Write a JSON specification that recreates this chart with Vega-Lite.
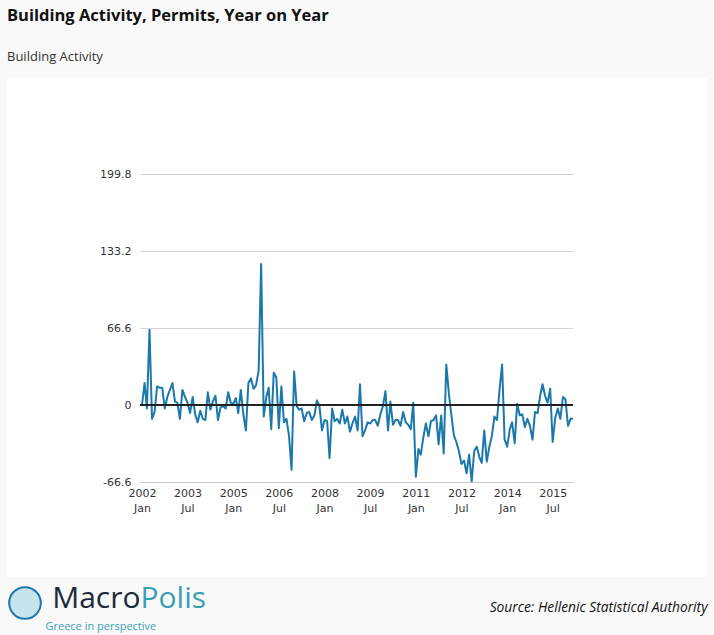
{
  "$schema": "https://vega.github.io/schema/vega-lite/v6.json",
  "width": 700,
  "height": 499,
  "autosize": "none",
  "padding": {"left": 7, "top": 78, "right": 7, "bottom": 58},
  "background": "#f9f9f9",
  "view": {"fill": "white", "stroke": null},
  "title": {
    "text": "Building Activity, Permits, Year on Year",
    "subtitle": "Building Activity",
    "anchor": "start",
    "frame": "group",
    "font": "Open Sans",
    "fontSize": 16.5,
    "fontWeight": "bold",
    "color": "#111111",
    "subtitleFont": "Open Sans",
    "subtitleFontSize": 13,
    "subtitleColor": "#333333",
    "offset": 14,
    "subtitlePadding": 27
  },
  "data": {
    "values": [
      {"d": "2002-01", "v": 0}, {"d": "2002-02", "v": 19}, {"d": "2002-03", "v": -3}, {"d": "2002-04", "v": 65}, {"d": "2002-05", "v": -12}, {"d": "2002-06", "v": -6}, {"d": "2002-07", "v": 16}, {"d": "2002-08", "v": 15}, {"d": "2002-09", "v": 15}, {"d": "2002-10", "v": -3}, {"d": "2002-11", "v": 7}, {"d": "2002-12", "v": 13},
      {"d": "2003-01", "v": 19}, {"d": "2003-02", "v": 3}, {"d": "2003-03", "v": 2}, {"d": "2003-04", "v": -12}, {"d": "2003-05", "v": 13}, {"d": "2003-06", "v": 7}, {"d": "2003-07", "v": 2}, {"d": "2003-08", "v": -7}, {"d": "2003-09", "v": 7}, {"d": "2003-10", "v": -8}, {"d": "2003-11", "v": -15}, {"d": "2003-12", "v": -5},
      {"d": "2004-01", "v": -12}, {"d": "2004-02", "v": -13}, {"d": "2004-03", "v": 11}, {"d": "2004-04", "v": -4}, {"d": "2004-05", "v": 3}, {"d": "2004-06", "v": 8}, {"d": "2004-07", "v": -13}, {"d": "2004-08", "v": -2}, {"d": "2004-09", "v": -1}, {"d": "2004-10", "v": -3}, {"d": "2004-11", "v": 11}, {"d": "2004-12", "v": 2},
      {"d": "2005-01", "v": 1}, {"d": "2005-02", "v": 6}, {"d": "2005-03", "v": -7}, {"d": "2005-04", "v": 13}, {"d": "2005-05", "v": -8}, {"d": "2005-06", "v": -22}, {"d": "2005-07", "v": 19}, {"d": "2005-08", "v": 23}, {"d": "2005-09", "v": 14}, {"d": "2005-10", "v": 17}, {"d": "2005-11", "v": 30}, {"d": "2005-12", "v": 122},
      {"d": "2006-01", "v": -10}, {"d": "2006-02", "v": 7}, {"d": "2006-03", "v": 15}, {"d": "2006-04", "v": -21}, {"d": "2006-05", "v": 28}, {"d": "2006-06", "v": 24}, {"d": "2006-07", "v": -20}, {"d": "2006-08", "v": 16}, {"d": "2006-09", "v": -15}, {"d": "2006-10", "v": -12}, {"d": "2006-11", "v": -27}, {"d": "2006-12", "v": -56},
      {"d": "2007-01", "v": 29}, {"d": "2007-02", "v": -1}, {"d": "2007-03", "v": -4}, {"d": "2007-04", "v": -3}, {"d": "2007-05", "v": -14}, {"d": "2007-06", "v": -7}, {"d": "2007-07", "v": -6}, {"d": "2007-08", "v": -13}, {"d": "2007-09", "v": -9}, {"d": "2007-10", "v": 4}, {"d": "2007-11", "v": -1}, {"d": "2007-12", "v": -22},
      {"d": "2008-01", "v": -13}, {"d": "2008-02", "v": -14}, {"d": "2008-03", "v": -46}, {"d": "2008-04", "v": -3}, {"d": "2008-05", "v": -14}, {"d": "2008-06", "v": -12}, {"d": "2008-07", "v": -16}, {"d": "2008-08", "v": -4}, {"d": "2008-09", "v": -16}, {"d": "2008-10", "v": -10}, {"d": "2008-11", "v": -23}, {"d": "2008-12", "v": -16},
      {"d": "2009-01", "v": -10}, {"d": "2009-02", "v": -22}, {"d": "2009-03", "v": 18}, {"d": "2009-04", "v": -27}, {"d": "2009-05", "v": -22}, {"d": "2009-06", "v": -15}, {"d": "2009-07", "v": -16}, {"d": "2009-08", "v": -13}, {"d": "2009-09", "v": -13}, {"d": "2009-10", "v": -18}, {"d": "2009-11", "v": -8}, {"d": "2009-12", "v": -1},
      {"d": "2010-01", "v": 12}, {"d": "2010-02", "v": -22}, {"d": "2010-03", "v": 3}, {"d": "2010-04", "v": -17}, {"d": "2010-05", "v": -13}, {"d": "2010-06", "v": -13}, {"d": "2010-07", "v": -18}, {"d": "2010-08", "v": -6}, {"d": "2010-09", "v": -15}, {"d": "2010-10", "v": -17}, {"d": "2010-11", "v": -21}, {"d": "2010-12", "v": 2},
      {"d": "2011-01", "v": -62}, {"d": "2011-02", "v": -38}, {"d": "2011-03", "v": -43}, {"d": "2011-04", "v": -28}, {"d": "2011-05", "v": -16}, {"d": "2011-06", "v": -27}, {"d": "2011-07", "v": -14}, {"d": "2011-08", "v": -13}, {"d": "2011-09", "v": -9}, {"d": "2011-10", "v": -34}, {"d": "2011-11", "v": -9}, {"d": "2011-12", "v": -42},
      {"d": "2012-01", "v": 35}, {"d": "2012-02", "v": 10}, {"d": "2012-03", "v": -8}, {"d": "2012-04", "v": -26}, {"d": "2012-05", "v": -32}, {"d": "2012-06", "v": -40}, {"d": "2012-07", "v": -51}, {"d": "2012-08", "v": -48}, {"d": "2012-09", "v": -59}, {"d": "2012-10", "v": -43}, {"d": "2012-11", "v": -66}, {"d": "2012-12", "v": -40},
      {"d": "2013-01", "v": -36}, {"d": "2013-02", "v": -45}, {"d": "2013-03", "v": -50}, {"d": "2013-04", "v": -22}, {"d": "2013-05", "v": -49}, {"d": "2013-06", "v": -36}, {"d": "2013-07", "v": -27}, {"d": "2013-08", "v": -10}, {"d": "2013-09", "v": -13}, {"d": "2013-10", "v": 13}, {"d": "2013-11", "v": 35}, {"d": "2013-12", "v": -30},
      {"d": "2014-01", "v": -36}, {"d": "2014-02", "v": -21}, {"d": "2014-03", "v": -15}, {"d": "2014-04", "v": -33}, {"d": "2014-05", "v": 1}, {"d": "2014-06", "v": -9}, {"d": "2014-07", "v": -8}, {"d": "2014-08", "v": -19}, {"d": "2014-09", "v": -12}, {"d": "2014-10", "v": -18}, {"d": "2014-11", "v": -30}, {"d": "2014-12", "v": -6},
      {"d": "2015-01", "v": -7}, {"d": "2015-02", "v": 8}, {"d": "2015-03", "v": 18}, {"d": "2015-04", "v": 8}, {"d": "2015-05", "v": 2}, {"d": "2015-06", "v": 14}, {"d": "2015-07", "v": -32}, {"d": "2015-08", "v": -11}, {"d": "2015-09", "v": -3}, {"d": "2015-10", "v": -12}, {"d": "2015-11", "v": 7}, {"d": "2015-12", "v": 5},
      {"d": "2016-01", "v": -18}, {"d": "2016-02", "v": -12}, {"d": "2016-03", "v": -12}
    ]
  },
  "layer": [
    {
      "mark": {"type": "line", "strokeWidth": 2, "strokeJoin": "round"},
      "encoding": {
        "x": {
          "field": "d",
          "type": "temporal",
          "scale": {
            "type": "utc",
            "domain": [
              {"year": 2001, "month": 12, "date": 8, "utc": true},
              {"year": 2016, "month": 3, "date": 1, "utc": true}
            ],
            "range": [133, 566]
          },
          "axis": {
            "orient": "bottom",
            "offset": -95,
            "values": [
              {"year": 2002, "month": 1, "date": 1, "utc": true},
              {"year": 2003, "month": 7, "date": 1, "utc": true},
              {"year": 2005, "month": 1, "date": 1, "utc": true},
              {"year": 2006, "month": 7, "date": 1, "utc": true},
              {"year": 2008, "month": 1, "date": 1, "utc": true},
              {"year": 2009, "month": 7, "date": 1, "utc": true},
              {"year": 2011, "month": 1, "date": 1, "utc": true},
              {"year": 2012, "month": 7, "date": 1, "utc": true},
              {"year": 2014, "month": 1, "date": 1, "utc": true},
              {"year": 2015, "month": 7, "date": 1, "utc": true}
            ],
            "labelExpr": "[utcFormat(datum.value, '%Y'), utcFormat(datum.value, '%b')]",
            "labelFont": "DejaVu Sans",
            "labelFontSize": 11,
            "labelColor": "#333333",
            "labelPadding": 5,
            "labelLineHeight": 15,
            "labelFlush": false,
            "labelOverlap": false,
            "ticks": false,
            "domain": true,
            "domainColor": "#c8c8c8",
            "grid": false,
            "title": "Source: Hellenic Statistical Authority",
            "titleFont": "Open Sans",
            "titleFontStyle": "italic",
            "titleFontWeight": "normal",
            "titleFontSize": 13.8,
            "titleColor": "#111111",
            "titleAlign": "right",
            "titleBaseline": "alphabetic",
            "titleX": 700,
            "titleY": 129
          }
        },
        "y": {
          "field": "v",
          "type": "quantitative",
          "scale": {"domain": [-66.6, 199.8], "range": [404, 96], "nice": false, "zero": false},
          "axis": {
            "orient": "left",
            "offset": -133,
            "values": [-66.6, 0, 66.6, 133.2, 199.8],
            "labelExpr": "datum.value == 0 ? '0' : '' + datum.value",
            "labelFont": "DejaVu Sans",
            "labelFontSize": 11,
            "labelColor": "#333333",
            "labelPadding": 9,
            "ticks": false,
            "domain": false,
            "grid": true,
            "gridColor": "#d3d3d3",
            "gridWidth": 1,
            "title": "Macro",
            "titleFont": "Open Sans",
            "titleFontSize": 30,
            "titleFontWeight": "normal",
            "titleColor": "#1d2a38",
            "titleAngle": 0,
            "titleAlign": "right",
            "titleBaseline": "alphabetic",
            "titleX": 0,
            "titleY": 529
          }
        },
        "color": {
          "datum": "MacroPolis",
          "scale": {"range": ["#1b78ab"]},
          "legend": {
            "orient": "none",
            "legendX": 1,
            "legendY": 508,
            "title": null,
            "padding": 0,
            "symbolType": "circle",
            "symbolSize": 1000,
            "symbolStrokeWidth": 2,
            "labelExpr": "''",
            "labelFontSize": 1,
            "encode": {
              "symbols": {
                "update": {
                  "fill": {"value": "#c6e4ec"},
                  "stroke": {"value": "#3f9ab8"},
                  "strokeWidth": {"value": 2}
                }
              }
            }
          }
        }
      }
    },
    {
      "mark": {"type": "rule", "color": "#222222", "strokeWidth": 1},
      "encoding": {
        "x": {
          "datum": {"year": 2001, "month": 12, "date": 8, "utc": true},
          "type": "temporal",
          "axis": {
            "orient": "top",
            "grid": false,
            "labels": false,
            "ticks": false,
            "domain": false,
            "title": "Greece in perspective",
            "titleFont": "Open Sans",
            "titleFontSize": 11,
            "titleFontWeight": "normal",
            "titleColor": "#3a9fb4",
            "titleAlign": "left",
            "titleBaseline": "alphabetic",
            "titleX": 38,
            "titleY": 551
          }
        },
        "x2": {"datum": {"year": 2016, "month": 3, "date": 1, "utc": true}},
        "y": {
          "datum": 0,
          "type": "quantitative",
          "axis": {
            "orient": "right",
            "grid": false,
            "labels": false,
            "ticks": false,
            "domain": false,
            "title": "Polis",
            "titleFont": "Open Sans",
            "titleFontSize": 30,
            "titleFontWeight": "normal",
            "titleColor": "#3a9fb4",
            "titleAngle": 0,
            "titleAlign": "left",
            "titleBaseline": "alphabetic",
            "titleX": -567,
            "titleY": 529
          }
        }
      }
    }
  ],
  "resolve": {"axis": {"x": "independent", "y": "independent"}}
}
